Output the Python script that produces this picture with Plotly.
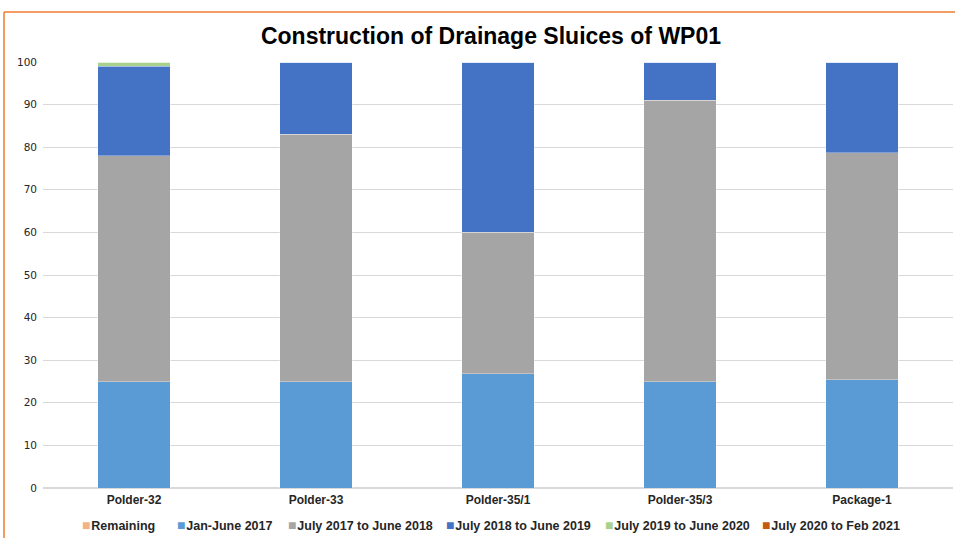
import plotly.graph_objects as go

categories = ["Polder-32", "Polder-33", "Polder-35/1", "Polder-35/3", "Package-1"]
series_names = ["Remaining", "Jan-June 2017", "July 2017 to June 2018",
                "July 2018 to June 2019", "July 2019 to June 2020", "July 2020 to Feb 2021"]
remaining = [0, 0, 0, 0, 0]
jan_jun_2017 = [25, 25, 26.8, 25, 25.4]
jul17_jun18 = [53, 58, 33.2, 66, 53.3]
jul18_jun19 = [21, 17, 40, 9, 21.3]
jul19_jun20 = [1, 0, 0, 0, 0]
jul20_feb21 = [0, 0, 0, 0, 0]
colors = ["#F4B183", "#5B9BD5", "#A5A5A5", "#4472C4", "#A9D18E", "#C55A11"]
yticks = [0, 10, 20, 30, 40, 50, 60, 70, 80, 90, 100]

values = [remaining, jan_jun_2017, jul17_jun18, jul18_jun19, jul19_jun20, jul20_feb21]

W, H = 955, 538
ML, MR, MT, MB = 43, 2, 62, 50
PW = W - ML - MR
PH = H - MT - MB

fig = go.Figure()
for name, vals, col in zip(series_names, values, colors):
    fig.add_trace(go.Bar(
        x=categories, y=vals, name=name, showlegend=False,
        marker=dict(color=col, line=dict(color="rgba(255,255,255,0.4)", width=0.8)),
    ))

# legend drawn as text items (small coloured square + bold label)
legend_px = [80, 175, 286, 444, 603, 760]
annotations = []
for name, col, px in zip(series_names, colors, legend_px):
    annotations.append(dict(
        xref="paper", yref="paper",
        x=(px - ML) / PW, y=(MT + PH - 525) / PH,
        xanchor="left", yanchor="middle", showarrow=False,
        text=(f"<span style='color:{col};font-size:14px'>■</span>"
              f"<span style='font-size:3px'> </span><b>{name}</b>"),
        font=dict(family="Liberation Sans", size=12.5, color="#262626"),
    ))

fig.update_layout(
    barmode="stack",
    bargap=0.6,
    width=W, height=H,
    margin=dict(l=ML, r=MR, t=MT, b=MB),
    paper_bgcolor="white", plot_bgcolor="white",
    title=dict(text="<b>Construction of Drainage Sluices of WP01</b>",
               x=491 / W, xanchor="center", y=1 - 36 / H, yanchor="middle",
               font=dict(family="Liberation Sans", size=23, color="black")),
    font=dict(family="DejaVu Sans", size=10, color="#262626"),
    showlegend=False,
    annotations=annotations,
)
fig.update_yaxes(range=[0, 100], tickvals=yticks, showgrid=True, gridcolor="#D9D9D9",
                 gridwidth=1, zeroline=True, zerolinecolor="#D9D9D9", showline=False,
                 tickfont=dict(family="DejaVu Sans", size=10.5, color="#262626"), ticks="",
                 ticklabelstandoff=5)
fig.update_xaxes(showline=False, ticks="",
                 tickfont=dict(family="Liberation Sans", size=12, color="#262626"),
                 tickprefix="<b>", ticksuffix="</b>", ticklabelstandoff=3)

# screenshot frame border (orange)
yb = (MT + PH - 12) / PH
xl = (4 - ML) / PW
fig.add_shape(type="line", xref="paper", yref="paper", x0=xl, x1=1.05, y0=yb, y1=yb,
              line=dict(color="#ED7D31", width=1.5), layer="above")
fig.add_shape(type="line", xref="paper", yref="paper", x0=xl, x1=xl, y0=yb, y1=-0.3,
              line=dict(color="#ED7D31", width=1.5), layer="above")

fig.write_html("out.html", config={"displayModeBar": False},
               post_script="document.body.style.margin='0px';")
